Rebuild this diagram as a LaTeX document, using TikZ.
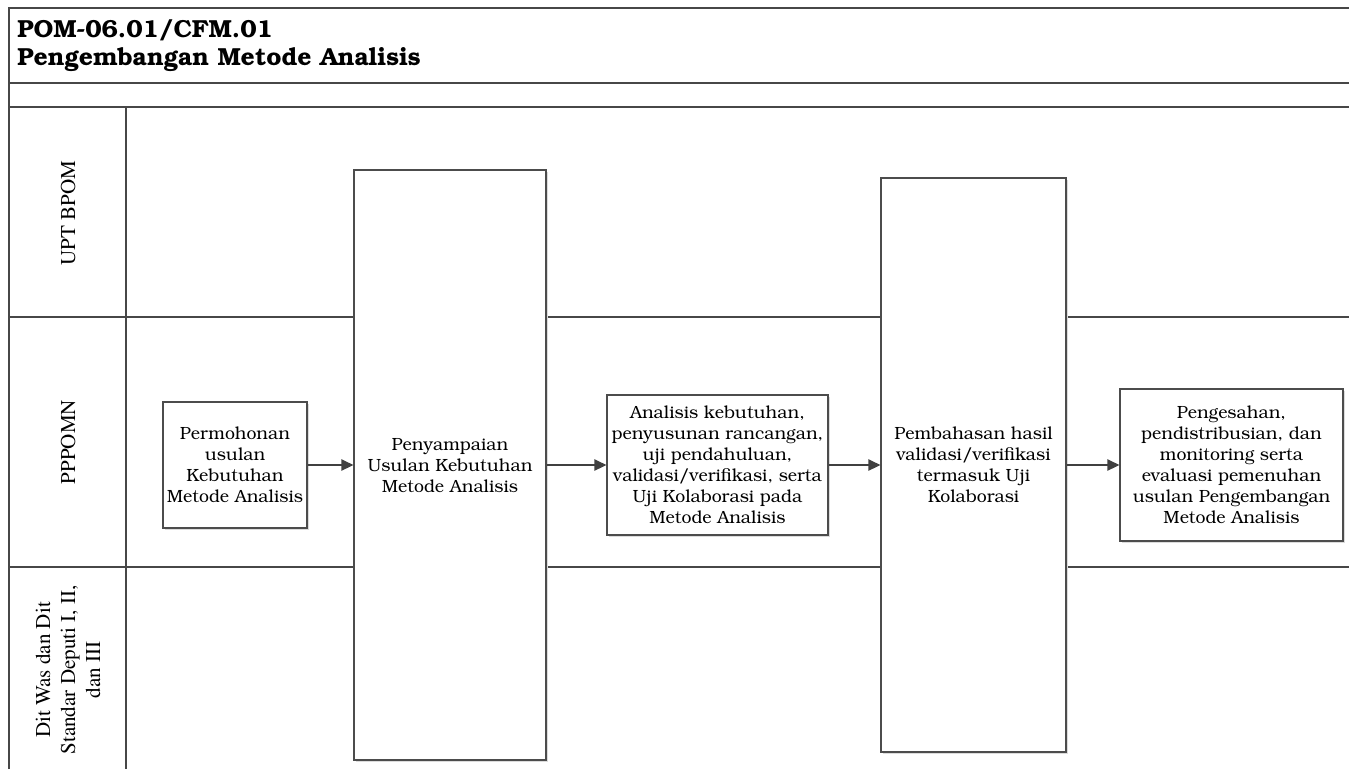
\documentclass[tikz,border=0pt]{standalone}
\usepackage[T1]{fontenc}
\usepackage{bookman}
\usetikzlibrary{arrows.meta,
	shadows,
	positioning}

\tikzset{
	frame/.style={draw=black!72, line width=1.1pt},
	procbox/.style={draw=black!70, line width=0.9pt, fill=white, align=center,
		inner sep=0pt, font=\fontsize{13.25}{15.75}\selectfont,
		drop shadow={shadow xshift=1.5pt, shadow yshift=-1.8pt, fill=black!14, opacity=1}},
	flow/.style={draw=black!75, line width=1.1pt, -{Triangle[length=9pt,width=8.5pt]}},
	lanelabel/.style={rotate=90, align=center,
		font=\fontfamily{ptm}\fontsize{15.8}{18.75}\selectfont}
}

\begin{document}
\begin{tikzpicture}[x=0.75pt, y=-0.75pt]
	\useasboundingbox (0,0) rectangle (1349,769);
	% header and swimlane grid
	\draw[frame] (9,769) -- (9,8) -- (1349,8);
	\draw[frame] (9,83) -- (1349,83);
	\draw[frame] (9,107) -- (1349,107);
	\draw[frame] (126,107) -- (126,769);
	\draw[frame] (9,317) -- (1349,317);
	\draw[frame] (9,567) -- (1349,567);
	\node[anchor=base west, align=left, inner sep=0pt,
		font=\bfseries\fontsize{18.5}{21}\selectfont] (title) at (17,65)
		{POM-06.01/CFM.01\\Pengembangan Metode Analisis};
	% lane names
	\node[lanelabel] (upt) at (68,213) {UPT BPOM};
	\node[lanelabel] (pppomn) at (68,442) {PPPOMN};
	\node[lanelabel] (ditwas) at (68,670) {Dit Was dan Dit\\Standar Deputi I, II,\\dan III};
	% process steps
	\node[procbox, minimum width=108pt, minimum height=94.5pt] (usul) at (235,465)
		{Permohonan\\usulan\\Kebutuhan\\Metode Analisis};
	\node[procbox, minimum width=144pt, minimum height=442.5pt] (sampai) at (450,465)
		{Penyampaian\\Usulan Kebutuhan\\Metode Analisis};
	\node[procbox, minimum width=165.75pt, minimum height=105pt] (analisis) at (717.5,465)
		{Analisis kebutuhan,\\penyusunan rancangan,\\uji pendahuluan,\\validasi/verifikasi, serta\\Uji Kolaborasi pada\\Metode Analisis};
	\node[procbox, minimum width=138.75pt, minimum height=430.5pt] (bahas) at (973.5,465)
		{Pembahasan hasil\\validasi/verifikasi\\termasuk Uji\\Kolaborasi};
	\node[procbox, minimum width=167.25pt, minimum height=114pt] (sah) at (1231.5,465)
		{Pengesahan,\\pendistribusian, dan\\monitoring serta\\evaluasi pemenuhan\\usulan Pengembangan\\Metode Analisis};
	% flow
	\draw[flow] (usul) -- (sampai);
	\draw[flow] (sampai) -- (analisis);
	\draw[flow] (analisis) -- (bahas);
	\draw[flow] (bahas) -- (sah);
\end{tikzpicture}
\end{document}
